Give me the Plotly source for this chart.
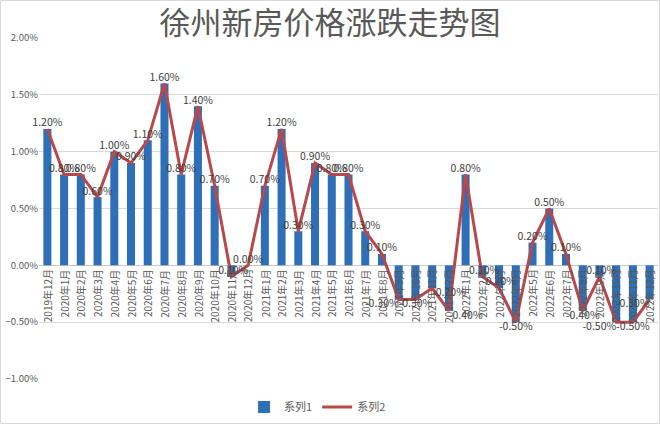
import plotly.graph_objects as go

months = [
    "2019年12月",
    "2020年1月", "2020年2月", "2020年3月", "2020年4月", "2020年5月", "2020年6月",
    "2020年7月", "2020年8月", "2020年9月", "2020年10月", "2020年11月", "2020年12月",
    "2021年1月", "2021年2月", "2021年3月", "2021年4月", "2021年5月", "2021年6月",
    "2021年7月", "2021年8月", "2021年9月", "2021年10月", "2021年11月", "2021年12月",
    "2022年1月", "2022年2月", "2022年3月", "2022年4月", "2022年5月", "2022年6月",
    "2022年7月", "2022年8月", "2022年9月", "2022年10月", "2022年11月", "2022年12月",
]

# 系列1 (bars) and 系列2 (line), percent change month on month
series1 = [1.2, 0.8, 0.8, 0.6, 1.0, 0.9, 1.1, 1.6, 0.8, 1.4, 0.7, -0.1, 0.0,
           0.7, 1.2, 0.3, 0.9, 0.8, 0.8, 0.3, 0.1, -0.3, -0.3, -0.2, -0.4,
           0.8, -0.1, -0.2, -0.5, 0.2, 0.5, 0.1, -0.4, -0.1, -0.5, -0.5, -0.3]
series2 = [1.2, 0.8, 0.8, 0.6, 1.0, 0.9, 1.1, 1.6, 0.8, 1.4, 0.7, -0.1, 0.0,
           0.7, 1.2, 0.3, 0.9, 0.8, 0.8, 0.3, 0.1, -0.3, -0.3, -0.2, -0.4,
           0.8, -0.1, -0.2, -0.5, 0.2, 0.5, 0.1, -0.4, -0.1, -0.5, -0.5, -0.3]

# labels sitting above the point even though the value is negative
above = {"2020年11月", "2022年2月", "2022年3月", "2022年9月"}
# a few labels nudged sideways so neighbours don't sit on each other
special = {"2021年9月": "bottom left", "2021年11月": "bottom right",
           "2021年12月": "bottom right", "2022年10月": "bottom left",
           "2022年12月": "bottom left"}
positions = []
for m, v in zip(months, series2):
    if m in special:
        positions.append(special[m])
    elif v >= 0 or m in above:
        positions.append("top center")
    else:
        positions.append("bottom center")
labels = ["%.2f%%" % v for v in series2]

fig = go.Figure()
fig.add_trace(go.Bar(
    x=months, y=series1, name="系列1",
    marker=dict(color="#2f6fb7", line=dict(width=0)),
))
fig.add_trace(go.Scatter(
    x=months, y=series2, name="系列2", mode="lines+text",
    line=dict(color="#b8484a", width=3),
    text=labels, textposition=positions,
    textfont=dict(size=10.5, color="#404040"),
    cliponaxis=False,
))

# month names hang from the zero line, as in the spreadsheet chart
for m in months:
    fig.add_annotation(x=m, y=0, xref="x", yref="y", text=m, showarrow=False,
                       textangle=-90, yanchor="top", xanchor="center", yshift=-2,
                       font=dict(size=10, color="#595959"))

L, R, T, B = 39, 2, 38, 45
pw, ph = 660 - L - R, 424 - T - B

# thin frame round the whole chart
fig.add_shape(type="rect", xref="paper", yref="paper",
              x0=-(L - 0.5) / pw, x1=1 + (R - 0.5) / pw,
              y0=-(B - 0.5) / ph, y1=1 + (T - 0.5) / ph,
              line=dict(color="#d9d9d9", width=1), layer="below")

fig.update_layout(
    width=660, height=424,
    paper_bgcolor="white", plot_bgcolor="white",
    margin=dict(l=L, r=R, t=T, b=B, autoexpand=False),
    font=dict(family="Noto Sans CJK SC, Noto Sans, sans-serif", color="#595959"),
    title=dict(text="徐州新房价格涨跌走势图", x=0.5, xref="container", xanchor="center",
               y=0.945, yanchor="middle",
               font=dict(size=31, color="#595959", family="Noto Sans CJK SC")),
    bargap=0.52,
    showlegend=True,
    legend=dict(orientation="h", x=0.45, xanchor="center",
                y=-0.082, yanchor="middle",
                font=dict(size=11, color="#595959")),
    xaxis=dict(
        type="category", automargin=False, range=[-0.5, len(months) - 0.5],
        showticklabels=False, showline=False,
        showgrid=False, ticks="",
    ),
    yaxis=dict(
        range=[-1.0, 2.0], dtick=0.5, tickformat=".2f", ticksuffix="%",
        tickfont=dict(size=9.5, color="#595959"), automargin=False,
        showgrid=True, gridcolor="#d9d9d9", gridwidth=1,
        zeroline=True, zerolinecolor="#c8c8c8", zerolinewidth=1,
        showline=False,
    ),
)

fig.write_html("out.html", config={"displayModeBar": False},
               post_script="document.body.style.margin='0';")
